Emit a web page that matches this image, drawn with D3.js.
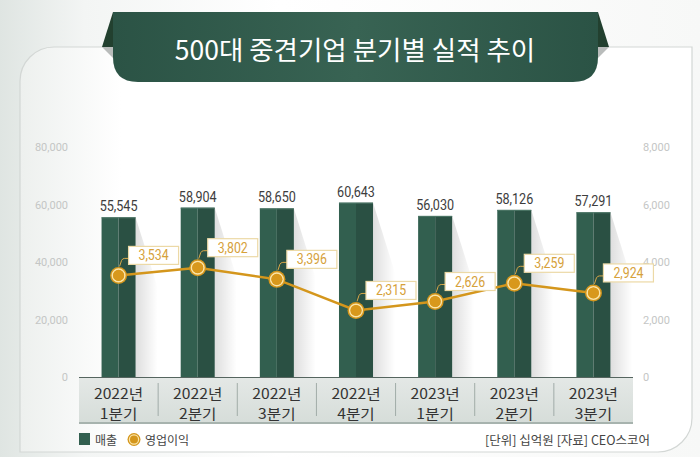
<!DOCTYPE html>
<html>
<head>
<meta charset="utf-8">
<script src="https://cdn.jsdelivr.net/npm/d3@7"></script>
<style>
  html, body { margin: 0; padding: 0; background: #fff; }
  svg { display: block; }
</style>
</head>
<body>
<svg id="chart" width="700" height="457"></svg>
<script>
// ---------- data ----------
const title = "500대 중견기업 분기별 실적 추이";
const categories = ["2022년 1분기", "2022년 2분기", "2022년 3분기", "2022년 4분기", "2023년 1분기", "2023년 2분기", "2023년 3분기"];
const sales = [55545, 58904, 58650, 60643, 56030, 58126, 57291];     // 매출 (left axis)
const profit = [3534, 3802, 3396, 2315, 2626, 3259, 2924];           // 영업이익 (right axis)
const leftTicks = [0, 20000, 40000, 60000, 80000];
const rightTicks = [0, 2000, 4000, 6000, 8000];
const legendNames = ["매출", "영업이익"];
const noteText = "[단위] 십억원  [자료] CEO스코어";

// ---------- setup ----------
const svg = d3.select("#chart");
const W = 700, H = 457;
const KR = "'Noto Sans CJK KR', 'Noto Sans', sans-serif";
const NUM = "Roboto, 'Noto Sans', sans-serif";
const fmt = d3.format(",");
const GREEN_L = "#325f4f", GREEN_D = "#2a5043", GOLD = "#d4961c";

const defs = svg.append("defs");
const bg = defs.append("linearGradient").attr("id", "bg").attr("x1", 0).attr("x2", 1).attr("y1", 0).attr("y2", 0);
bg.append("stop").attr("offset", "0%").attr("stop-color", "#dfe5e2");
bg.append("stop").attr("offset", "12%").attr("stop-color", "#f3f5f4");
bg.append("stop").attr("offset", "40%").attr("stop-color", "#ffffff");
bg.append("stop").attr("offset", "100%").attr("stop-color", "#f7f8f7");
const pg = defs.append("linearGradient").attr("id", "panelg").attr("x1", 0).attr("x2", 1).attr("y1", 0).attr("y2", 0);
pg.append("stop").attr("offset", "0%").attr("stop-color", "#edf0ee");
pg.append("stop").attr("offset", "15%").attr("stop-color", "#ffffff");
pg.append("stop").attr("offset", "100%").attr("stop-color", "#ffffff");
const rg = defs.append("linearGradient").attr("id", "ribbon").attr("x1", 0).attr("x2", 1).attr("y1", 0).attr("y2", 0);
rg.append("stop").attr("offset", "0%").attr("stop-color", "#2b5345");
rg.append("stop").attr("offset", "50%").attr("stop-color", "#386353");
rg.append("stop").attr("offset", "100%").attr("stop-color", "#2b5345");
const sg = defs.append("linearGradient").attr("id", "shadow").attr("x1", 0).attr("x2", 1).attr("y1", 0).attr("y2", 0);
sg.append("stop").attr("offset", "0%").attr("stop-color", "#000").attr("stop-opacity", 0.13);
sg.append("stop").attr("offset", "100%").attr("stop-color", "#000").attr("stop-opacity", 0);
const cg = defs.append("linearGradient").attr("id", "catbox").attr("x1", 0).attr("x2", 0).attr("y1", 0).attr("y2", 1);
cg.append("stop").attr("offset", "0%").attr("stop-color", "#e4e8e6");
cg.append("stop").attr("offset", "100%").attr("stop-color", "#d6ddd9");

// background
svg.append("rect").attr("width", W).attr("height", H).attr("fill", "url(#bg)");

// panel (rounded top-left & bottom-right)
svg.append("path")
  .attr("d", "M20,81 A34,34 0 0 1 54,47 L692,47 L692,418 A34,34 0 0 1 658,452 L20,452 Z")
  .attr("fill", "url(#panelg)").attr("stroke", "#d3d7d5").attr("stroke-width", 1.2);

// title ribbon
svg.append("path").attr("d", "M113,12 L102,47 L113,47 Z").attr("fill", "#22402f");
svg.append("path").attr("d", "M102,47 L113,47 L113,58 Z").attr("fill", "#b9bcbb");
svg.append("path").attr("d", "M598,12 L609,47 L598,47 Z").attr("fill", "#22402f");
svg.append("path").attr("d", "M609,47 L598,47 L598,58 Z").attr("fill", "#b9bcbb");
svg.append("path")
  .attr("d", "M113,12 L598,12 L598,57 Q598,82 573,82 L138,82 Q113,82 113,57 Z")
  .attr("fill", "url(#ribbon)");
svg.append("text").attr("x", 355).attr("y", 48)
  .attr("text-anchor", "middle").attr("dominant-baseline", "central")
  .attr("font-family", KR).attr("font-size", 26.5).attr("font-weight", 400)
  .attr("fill", "#ffffff").text(title);

// ---------- scales ----------
const x = d3.scaleBand().domain(categories).range([79, 633]).padding(0);
const yL = d3.scaleLinear().domain([0, 80000]).range([377, 147]);
const yR = d3.scaleLinear().domain([0, 8000]).range([377, 147]);
const barW = x.bandwidth() * 0.43;
const cx = c => x(c) + x.bandwidth() / 2;

// ---------- axes ----------
const axL = svg.append("g").attr("transform", "translate(68,0)")
  .call(d3.axisLeft(yL).tickValues(leftTicks).tickSize(0).tickPadding(0).tickFormat(fmt));
const axR = svg.append("g").attr("transform", "translate(643,0)")
  .call(d3.axisRight(yR).tickValues(rightTicks).tickSize(0).tickPadding(0).tickFormat(fmt));
[axL, axR].forEach(a => {
  a.select(".domain").remove();
  a.selectAll("text").attr("font-family", NUM).attr("font-size", 11).attr("fill", "#c4c6c5");
});

// ---------- bars ----------
const bars = svg.append("g").selectAll("g").data(categories).join("g");
bars.append("path")
  .attr("d", (c, i) => {
    const r = cx(c) + barW / 2, t = yL(sales[i]), b = yL(0);
    return `M${r},${t} L${r + 22},${t + 70} L${r + 22},${b} L${r},${b} Z`;
  })
  .attr("fill", "url(#shadow)");
bars.append("rect")
  .attr("x", c => cx(c) - barW / 2).attr("width", barW / 2)
  .attr("y", (c, i) => yL(sales[i])).attr("height", (c, i) => yL(0) - yL(sales[i]))
  .attr("fill", GREEN_L);
bars.append("rect")
  .attr("x", c => cx(c)).attr("width", barW / 2)
  .attr("y", (c, i) => yL(sales[i])).attr("height", (c, i) => yL(0) - yL(sales[i]))
  .attr("fill", GREEN_D);
bars.append("line")
  .attr("x1", c => cx(c) - barW / 2).attr("x2", c => cx(c) + barW / 2)
  .attr("y1", (c, i) => yL(sales[i]) + 0.5).attr("y2", (c, i) => yL(sales[i]) + 0.5)
  .attr("stroke", "#4d7767").attr("stroke-width", 1);
bars.append("g")
  .attr("transform", (c, i) => `translate(${cx(c)},${yL(sales[i]) - 6})`)
  .append("text").attr("transform", "scale(0.9,1)")
  .attr("text-anchor", "middle").attr("font-family", NUM).attr("font-size", 14)
  .attr("fill", "#3d3d3d").text((c, i) => fmt(sales[i]));

// ---------- category box ----------
const cat = svg.append("g");
cat.append("rect").attr("x", x.range()[0]).attr("y", yL(0))
  .attr("width", x.range()[1] - x.range()[0]).attr("height", 46).attr("fill", "url(#catbox)");
cat.append("line").attr("x1", x.range()[0]).attr("x2", x.range()[1])
  .attr("y1", yL(0) + 0.5).attr("y2", yL(0) + 0.5).attr("stroke", "#55655f").attr("stroke-width", 1);
cat.append("line").attr("x1", x.range()[0]).attr("x2", x.range()[1])
  .attr("y1", yL(0) + 46).attr("y2", yL(0) + 46).attr("stroke", "#a7b3ae").attr("stroke-width", 2);
cat.selectAll("line.sep").data(categories.slice(1)).join("line").attr("class", "sep")
  .attr("x1", c => x(c)).attr("x2", c => x(c)).attr("y1", yL(0) + 6).attr("y2", yL(0) + 39)
  .attr("stroke", "#a1aca8").attr("stroke-width", 1);
const catG = cat.selectAll("g.lbl").data(categories).join("g").attr("class", "lbl")
  .attr("transform", c => `translate(${cx(c)},0) scale(1.12,1)`);
catG.append("text").attr("y", yL(0) + 15.5).attr("text-anchor", "middle").attr("dominant-baseline", "central")
  .attr("font-family", KR).attr("font-size", 14).attr("fill", "#333")
  .text(c => c.split(" ")[0]);
catG.append("text").attr("y", yL(0) + 36).attr("text-anchor", "middle").attr("dominant-baseline", "central")
  .attr("font-family", KR).attr("font-size", 14).attr("fill", "#333")
  .text(c => c.split(" ")[1]);

// ---------- profit line ----------
const line = d3.line().x((d, i) => cx(categories[i])).y(d => yR(d));
svg.append("path").datum(profit).attr("d", line)
  .attr("fill", "none").attr("stroke", GOLD).attr("stroke-width", 2.5);

const pts = svg.append("g").selectAll("g").data(profit).join("g")
  .attr("transform", (d, i) => `translate(${cx(categories[i])},${yR(d)})`);
pts.append("path").attr("d", "M1,-9 L3,-15 Q4,-17 6,-17 L11,-17")
  .attr("fill", "none").attr("stroke", "#d9a848").attr("stroke-width", 1);
pts.append("rect").attr("x", 10).attr("y", -29).attr("width", 50).attr("height", 18)
  .attr("fill", "#ffffff").attr("stroke", "#ecd9a6").attr("stroke-width", 1.2);
pts.append("g").attr("transform", "translate(35,-15)")
  .append("text").attr("transform", "scale(0.88,1)").attr("text-anchor", "middle")
  .attr("font-family", NUM).attr("font-size", 14).attr("fill", "#d6a13a")
  .text(d => fmt(d));
pts.append("circle").attr("r", 8.5).attr("fill", GOLD);
pts.append("circle").attr("r", 6.3).attr("fill", "none").attr("stroke", "#fbe4a6").attr("stroke-width", 1.5);
pts.append("circle").attr("r", 5.4).attr("fill", "#d8981c");

// ---------- legend & note ----------
const leg = svg.append("g");
leg.append("rect").attr("x", 79).attr("y", 433).attr("width", 11).attr("height", 12).attr("fill", GREEN_L);
leg.append("text").attr("x", 95).attr("y", 439.5).attr("dominant-baseline", "central")
  .attr("font-family", KR).attr("font-size", 12).attr("fill", "#444").text(legendNames[0]);
leg.append("circle").attr("cx", 134).attr("cy", 439.5).attr("r", 6.5).attr("fill", GOLD);
leg.append("circle").attr("cx", 134).attr("cy", 439.5).attr("r", 4.6).attr("fill", "none").attr("stroke", "#fbe4a6").attr("stroke-width", 1.2);
leg.append("text").attr("x", 145).attr("y", 439.5).attr("dominant-baseline", "central")
  .attr("font-family", KR).attr("font-size", 12).attr("fill", "#444").text(legendNames[1]);
svg.append("text").attr("x", 650).attr("y", 439.5).attr("text-anchor", "end").attr("dominant-baseline", "central")
  .attr("font-family", KR).attr("font-size", 12.5).attr("fill", "#444").text(noteText);
</script>
</body>
</html>
